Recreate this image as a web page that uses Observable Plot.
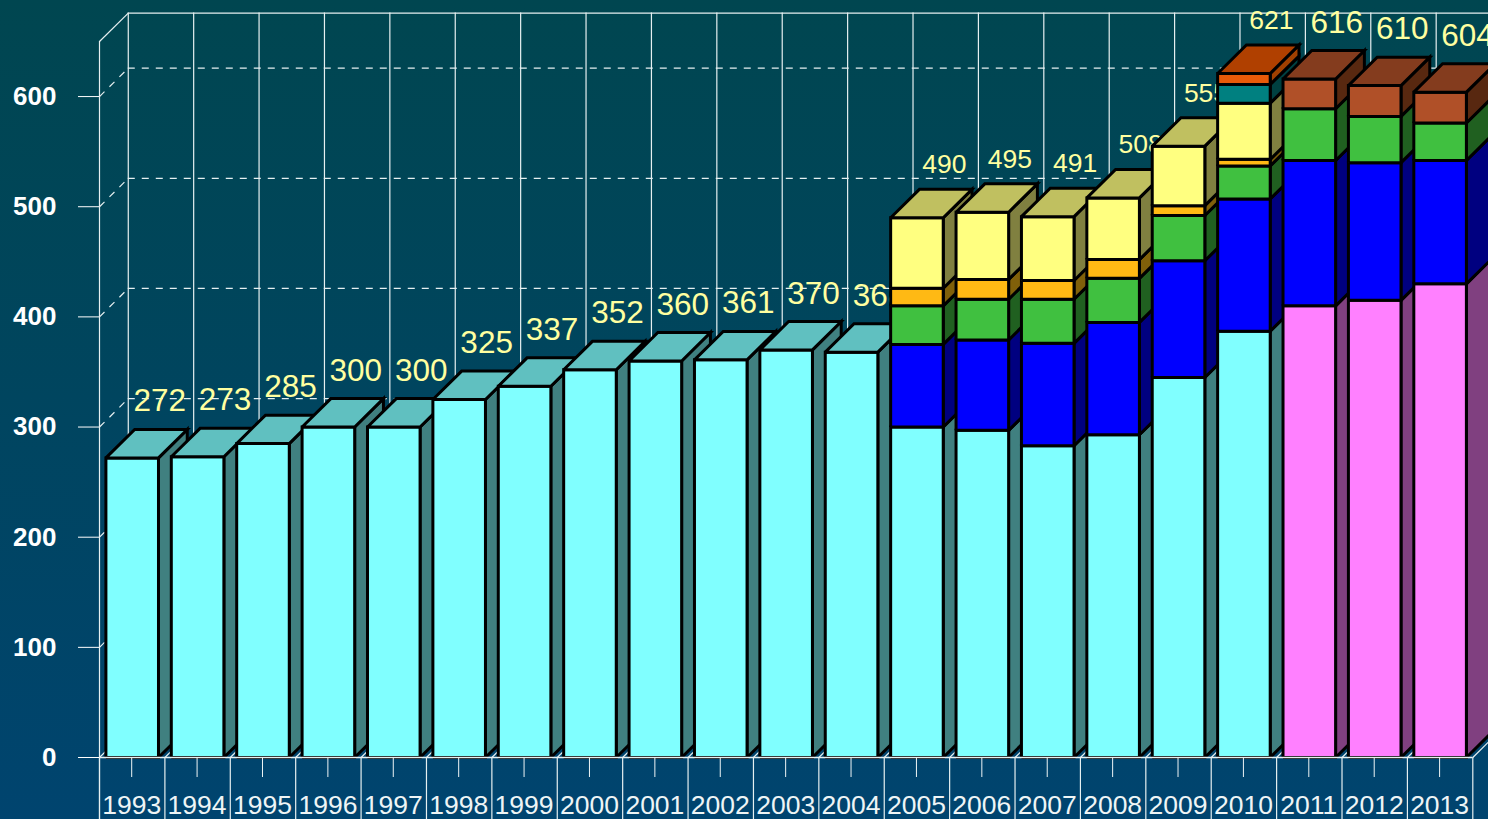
<!DOCTYPE html>
<html>
<head>
<meta charset="utf-8">
<script src="https://cdn.jsdelivr.net/npm/d3@7"></script>
<script src="https://cdn.jsdelivr.net/npm/@observablehq/plot@0.6"></script>
<style>
html,body{margin:0;padding:0;width:1488px;height:819px;overflow:hidden;background:#004560}
</style>
</head>
<body>
<div id="chart"></div>
<script>
const years = [1993,1994,1995,1996,1997,1998,1999,2000,2001,2002,2003,2004,2005,2006,2007,2008,2009,2010,2011,2012,2013];
const totals = [272,273,285,300,300,325,337,352,360,361,370,368,490,495,491,508,555,621,616,610,604];
const cyan    = [272,273,285,300,300,325,337,352,360,361,370,368,300,297,283,293,345,387,0,0,0];
const magenta = [0,0,0,0,0,0,0,0,0,0,0,0,0,0,0,0,0,0,410,415,430];
const blue    = [0,0,0,0,0,0,0,0,0,0,0,0,75,82,93,102,106,120,132,125,112];
const green   = [0,0,0,0,0,0,0,0,0,0,0,0,35,37,40,40,41,30,47,42,34];
const amber   = [0,0,0,0,0,0,0,0,0,0,0,0,16,18,17,17,9,6,0,0,0];
const yellow  = [0,0,0,0,0,0,0,0,0,0,0,0,64,61,58,56,54,51,0,0,0];
const teal    = [0,0,0,0,0,0,0,0,0,0,0,0,0,0,0,0,0,17,0,0,0];
const red     = [0,0,0,0,0,0,0,0,0,0,0,0,0,0,0,0,0,10,0,0,0];
const brown   = [0,0,0,0,0,0,0,0,0,0,0,0,0,0,0,0,0,0,27,28,28];
const yTicks = [0,100,200,300,400,500,600];

const series = [
  {values: cyan,    front: "#80ffff", side: "#408080", top: "#60c0c0"},
  {values: magenta, front: "#ff80ff", side: "#804080", top: "#c060c0"},
  {values: blue,    front: "#0000ff", side: "#000080", top: "#0000c0"},
  {values: green,   front: "#40c040", side: "#206020", top: "#309030"},
  {values: amber,   front: "#ffb914", side: "#80600a", top: "#c09010"},
  {values: yellow,  front: "#ffff80", side: "#808040", top: "#c0c060"},
  {values: teal,    front: "#008080", side: "#004040", top: "#006060"},
  {values: red,     front: "#e85a08", side: "#a04000", top: "#b04000"},
  {values: brown,   front: "#b05028", side: "#582810", top: "#843c1e"}
];

const halfBar = 0.402, depthX = 0.44, depthY = 25.8, topValue = 650;
const bounds = d3.range(years.length + 1).map(i => years[0] - 0.5 + i);

function quad(id, fill, pts) {
  return [...pts, pts[0]].map(([x, y]) => ({id, fill, x, y}));
}
function yearPolys(i) {
  const yr = years[i], x0 = yr - halfBar, x1 = yr + halfBar, out = [];
  let base = 0, last = null;
  series.forEach((s, k) => {
    const v = s.values[i];
    if (!v) return;
    const t = base + v;
    out.push(...quad(`${yr}-${k}-s`, s.side, [[x1,base],[x1+depthX,base+depthY],[x1+depthX,t+depthY],[x1,t]]));
    out.push(...quad(`${yr}-${k}-f`, s.front, [[x0,base],[x1,base],[x1,t],[x0,t]]));
    base = t; last = s;
  });
  out.push(...quad(`${yr}-t`, last.top, [[x0,base],[x1,base],[x1+depthX,base+depthY],[x0+depthX,base+depthY]]));
  return out;
}

const wall = "#e6f0f1";
const marks = [
  // back wall
  Plot.ruleX(bounds, {x: d => d + depthX, y1: depthY, y2: topValue + depthY, stroke: wall, strokeWidth: 1.2}),
  Plot.ruleY([topValue], {y: d => d + depthY, x1: bounds[0] + depthX, x2: bounds[21] + depthX, stroke: wall, strokeWidth: 1.2}),
  Plot.ruleY(yTicks.slice(1), {y: d => d + depthY, x1: bounds[0] + depthX, x2: bounds[21] + depthX, stroke: wall, strokeWidth: 1.2, strokeDasharray: "7,7"}),
  // side wall
  Plot.ruleX([bounds[0]], {y1: -60, y2: topValue, stroke: wall, strokeWidth: 1.2}),
  Plot.link([topValue], {x1: bounds[0], x2: bounds[0] + depthX, y1: d => d, y2: d => d + depthY, stroke: wall, strokeWidth: 1.2}),
  Plot.link(yTicks.slice(1), {x1: bounds[0], x2: bounds[0] + depthX, y1: d => d, y2: d => d + depthY, stroke: wall, strokeWidth: 1.2, strokeDasharray: "7,7"}),
  // floor
  Plot.link(bounds, {x1: d => d, x2: d => d + depthX, y1: 0, y2: depthY, stroke: wall, strokeWidth: 1.2})
];

years.forEach((yr, i) => {
  marks.push(Plot.line(yearPolys(i), {
    x: "x", y: "y", z: "id", fill: "fill", stroke: "#000", strokeWidth: 3,
    strokeLinejoin: "miter", strokeMiterlimit: 10, strokeLinecap: "butt"
  }));
  const big = i < 12 || i > 17;
  marks.push(Plot.text([i], {
    x: d => years[d] + depthX - 0.02, y: d => totals[d] + depthY,
    text: d => String(totals[d]), fill: "#ffffa0",
    fontSize: big ? 31.5 : 26.5, lineAnchor: "bottom", textAnchor: "middle", dy: big ? -18 : -16,
    fontFamily: "Liberation Sans, Arial, sans-serif"
  }));
});

marks.push(
  Plot.ruleY([0], {x1: bounds[0], x2: bounds[21], stroke: wall, strokeWidth: 1.5}),
  Plot.ruleX(bounds, {y1: -60, y2: 0, stroke: wall, strokeWidth: 1.2}),
  Plot.axisY({ticks: yTicks, anchor: "left", tickSize: 21, tickPadding: 22, label: null,
    color: "#fff", fontSize: 26, fontWeight: "bold", tickFormat: d => String(d)}),
  Plot.axisX({ticks: years, anchor: "bottom", tickSize: 20, tickPadding: 18, label: null,
    color: "#eef5f6", fontSize: 26.5, dx: -0.5, tickFormat: d => String(d)})
);

const chart = Plot.plot({
  width: 1488, height: 819,
  marginLeft: 99, marginRight: 15.7, marginTop: 41, marginBottom: 62,
  x: {type: "linear", domain: [bounds[0], bounds[21]], range: [99, 1472.3]},
  y: {type: "linear", domain: [0, topValue], range: [757, 41]},
  color: {type: "identity"},
  style: {background: "linear-gradient(to bottom, #004650 0%, #00446f 100%)",
          fontFamily: "Liberation Sans, Arial, sans-serif", overflow: "hidden"},
  marks
});
document.getElementById("chart").appendChild(chart);
</script>
</body>
</html>
